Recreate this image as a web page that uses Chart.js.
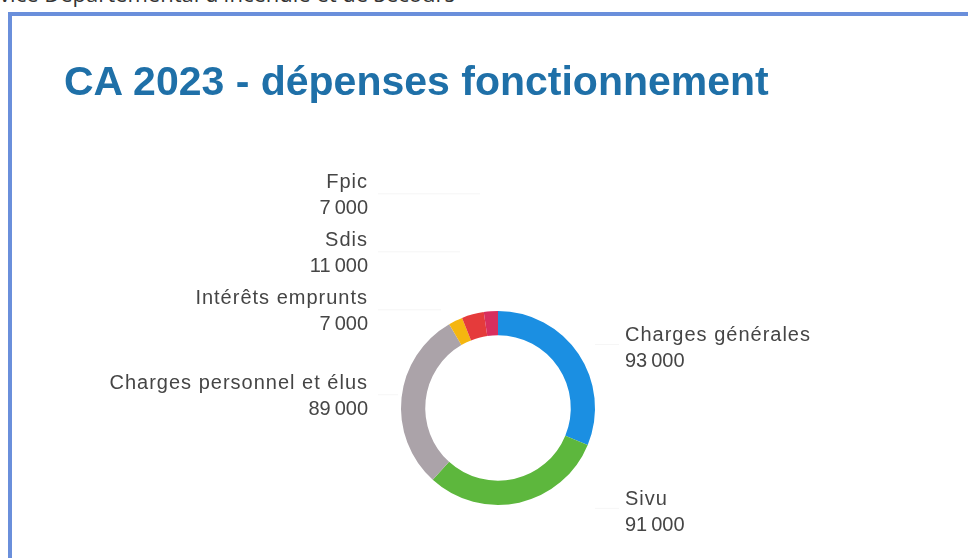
<!DOCTYPE html>
<html lang="fr">
<head>
  <meta charset="UTF-8" />
  <title>CA 2023 - dépenses fonctionnement</title>
  <script src="https://cdn.jsdelivr.net/npm/chart.js"></script>
  <style>
    body {
      margin: 0;
      padding: 0;
      width: 968px;
      height: 558px;
      overflow: hidden;
      background: #fff;
      position: relative;
      font-family: 'Liberation Sans', Arial, sans-serif;
    }

    .entete {
      position: absolute;
      right: 513px;
      top: -22px;
      white-space: nowrap;
      font-family: 'Open Sans', sans-serif;
      font-size: 22px;
      color: #333;
    }

    .cadre {
      position: absolute;
      left: 8px;
      top: 12px;
      width: 1000px;
      height: 600px;
      border-left: 4px solid #6a8fdb;
      border-top: 4px solid #6a8fdb;
    }

    .titre {
      position: absolute;
      left: 64px;
      top: 58px;
      margin: 0;
      font-size: 41px;
      font-weight: 700;
      color: #1f70a8;
      white-space: nowrap;
    }

    canvas {
      position: absolute;
      left: 0;
      top: 0;
    }
  </style>
</head>
<body>
  <div class="entete">Service Départemental d'Incendie et de Secours</div>
  <div class="cadre"></div>
  <canvas id="graphDepenses" width="968" height="558"></canvas>
  <h1 class="titre">CA 2023 - dépenses fonctionnement</h1>

  <script>
    const categories = ["Charges générales", "Sivu", "Charges personnel et élus", "Intérêts emprunts", "Sdis", "Fpic"];
    const valeurs = [93000, 91000, 89000, 7000, 11000, 7000];
    const couleurs = ["#1b8fe2", "#5db73d", "#aba3a9", "#f5b60f", "#e53b3b", "#d82e5e"];

    const fmt = v => v.toLocaleString("fr-FR");

    // étiquettes à l'extérieur, empilées à gauche comme dans l'original
    const etiquettes = {
      id: 'etiquettes',
      afterDatasetsDraw(chart) {
        const ctx = chart.ctx;
        const meta = chart.getDatasetMeta(0);
        const gauche = [], droite = [];
        meta.data.forEach((arc, i) => {
          const mid = (arc.startAngle + arc.endAngle) / 2;
          const r = arc.outerRadius + 10;
          const item = {
            i,
            cx: arc.x,
            R: arc.outerRadius,
            px: arc.x + Math.cos(mid) * r,
            y: arc.y + Math.sin(mid) * r
          };
          (Math.cos(mid) >= 0 ? droite : gauche).push(item);
        });

        gauche.sort((a, b) => b.y - a.y);
        for (let k = 1; k < gauche.length; k++) {
          gauche[k].y = Math.min(gauche[k].y, gauche[k - 1].y - 58);
        }

        ctx.save();
        ctx.font = '20px "Liberation Sans", Arial, sans-serif';
        ctx.letterSpacing = '1px';
        ctx.textBaseline = 'middle';

        gauche.forEach(it => {
          const x = it.cx - it.R - 33;
          ctx.strokeStyle = 'rgba(0,0,0,0.04)';
          ctx.lineWidth = 1;
          ctx.beginPath();
          ctx.moveTo(x + 10, it.y - 2);
          ctx.lineTo(Math.max(x + 30, it.px - 10), it.y - 2);
          ctx.stroke();
          ctx.fillStyle = '#454545';
          ctx.textAlign = 'right';
          ctx.fillText(categories[it.i], x, it.y - 13);
          ctx.fillText(fmt(valeurs[it.i]), x, it.y + 13);
        });

        droite.forEach(it => {
          const x = it.cx + it.R + 30;
          ctx.strokeStyle = 'rgba(0,0,0,0.04)';
          ctx.lineWidth = 1;
          ctx.beginPath();
          ctx.moveTo(it.cx + it.R, it.y - 4);
          ctx.lineTo(x - 6, it.y - 4);
          ctx.stroke();
          ctx.fillStyle = '#454545';
          ctx.textAlign = 'left';
          ctx.fillText(categories[it.i], x, it.y - 13);
          ctx.fillText(fmt(valeurs[it.i]), x, it.y + 13);
        });
        ctx.restore();
      }
    };

    new Chart(document.getElementById("graphDepenses"), {
      type: "doughnut",
      data: {
        labels: categories,
        datasets: [{
          data: valeurs,
          backgroundColor: couleurs,
          borderWidth: 0
        }]
      },
      options: {
        responsive: false,
        animation: false,
        cutout: "75%",
        layout: {
          padding: { left: 401, right: 373, top: 311, bottom: 53 }
        },
        plugins: {
          legend: { display: false },
          tooltip: { enabled: false }
        }
      },
      plugins: [etiquettes]
    });
  </script>
</body>
</html>
